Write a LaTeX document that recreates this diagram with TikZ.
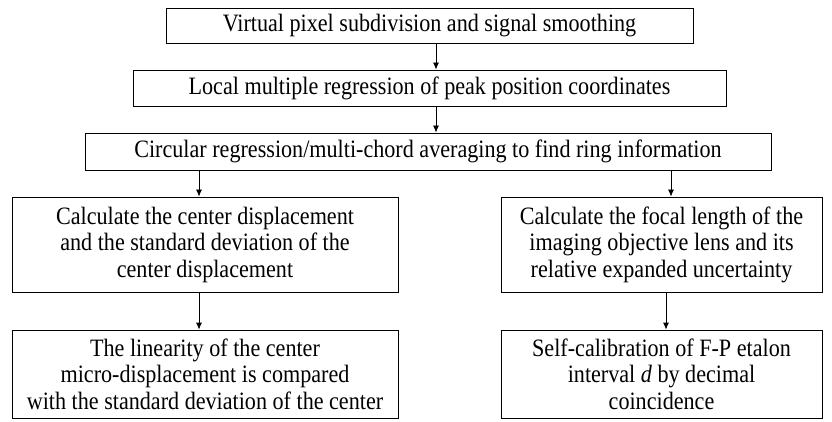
\documentclass[tikz,border=0pt]{standalone}
\usepackage{fontspec}
\setmainfont{Liberation Serif}[FakeStretch=0.885]
\usetikzlibrary{arrows.meta}
\begin{document}
\begin{tikzpicture}[x=1pt,y=-1pt,
  box/.style={draw,line width=0.8pt,inner sep=0pt,align=center,
    font=\fontsize{25}{26.5}\selectfont},
  arr/.style={line width=0.8pt,-{Latex[length=7pt,width=6pt]}}]
\useasboundingbox (0,0) rectangle (832,422);
\node[box,minimum width=527pt,minimum height=35pt] (b1) at (429.5,25.5) {Virtual pixel subdivision and signal smoothing};
\node[box,minimum width=593pt,minimum height=36pt] (b2) at (429.5,88) {Local multiple regression of peak position coordinates};
\node[box,minimum width=686pt,minimum height=37pt] (b3) at (428,151.5) {Circular regression/multi-chord averaging to find ring information};
\node[box,minimum width=386pt,minimum height=95pt] (b4) at (205,244.5) {Calculate the center displacement\\and the standard deviation of the\\center displacement};
\node[box,minimum width=321pt,minimum height=95pt] (b5) at (661.5,244.5) {Calculate the focal length of the\\imaging objective lens and its\\relative expanded uncertainty};
\node[box,minimum width=386pt,minimum height=88pt] (b6) at (205,374) {The linearity of the center\\micro-displacement is compared\\with the standard deviation of the center};
\node[box,minimum width=321pt,minimum height=88pt] (b7) at (661.5,374) {Self-calibration of F-P etalon\\interval \textit{d} by decimal\\coincidence};
\coordinate (xa) at (436,0);
\coordinate (xl) at (199,0);
\coordinate (xr) at (671,0);
\coordinate (xr2) at (666,0);
\draw[arr] (b1.south -| xa) -- (b2.north -| xa);
\draw[arr] (b2.south -| xa) -- (b3.north -| xa);
\draw[arr] (b3.south -| xl) -- (b4.north -| xl);
\draw[arr] (b3.south -| xr) -- (b5.north -| xr);
\draw[arr] (b4.south -| xl) -- (b6.north -| xl);
\draw[arr] (b5.south -| xr2) -- (b7.north -| xr2);
\end{tikzpicture}
\end{document}
